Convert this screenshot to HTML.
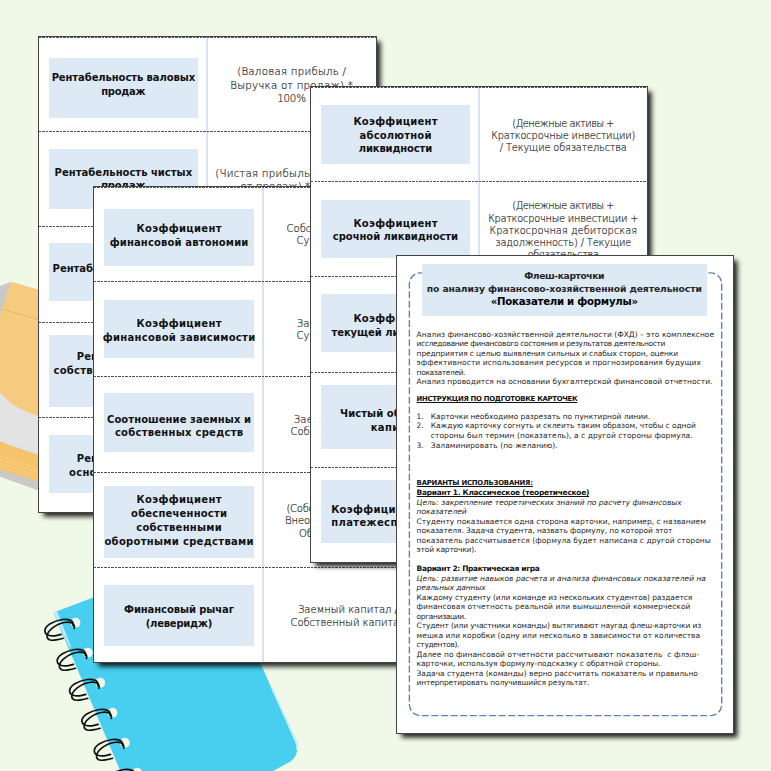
<!DOCTYPE html>
<html lang="ru"><head><meta charset="utf-8"><title>Флеш-карточки</title>
<style>
*{margin:0;padding:0;box-sizing:border-box}
html,body{width:771px;height:771px;overflow:hidden;background:#f0f8e7}
body{position:relative;font-family:"DejaVu Sans","Liberation Sans",sans-serif;color:#111}
.pg{position:absolute;background:#fff;box-shadow:0 0 0 1px #444,4px 4px 5px .5px rgba(0,0,0,.88);overflow:hidden}
.bx{position:absolute;background:#dde9f5}
.vd{position:absolute;top:0;bottom:0;width:2.2px;background:#d7e3f0}
.hd{position:absolute;left:0;right:0;height:1px;background:repeating-linear-gradient(90deg,#4a525e 0,#4a525e 2.1px,transparent 2.1px,transparent 3.5px)}
.t{position:absolute;white-space:nowrap;text-align:center;line-height:12px;height:12px}
.b{font-weight:bold;font-size:10px;color:#111}
.r{font-size:10px;color:#2a2a2a;font-weight:200;-webkit-text-stroke:.22px #3a3a3a}
.s{position:absolute;white-space:pre;font-size:7.5px;line-height:9.5px;height:9.5px;color:#262626}
.s b{color:#111}
</style></head><body>
<svg style="position:absolute;left:0;top:0" width="771" height="771" viewBox="0 0 771 771">
<polygon points="0,286 10.9,281.7 20,300 0,320" fill="#c9c9c9"/>
<polygon points="0,392 40,416 40,491 0,476.8" fill="#c9c9c9"/>
<path d="M0,392 L40,416 L40,455.2 Q18,448.5 0,441.5 Z" fill="#e3e3e3"/>
<path d="M10.9,281.7 L40,290 L40,416.6 Q14,409 0,392.5 L0,315.5 Z" fill="#f6cb7f"/>
<line x1="2.5" y1="309.6" x2="40" y2="320.3" stroke="#eeb456" stroke-width="1.1"/>
<line x1="2.2" y1="310.8" x2="40" y2="321.5" stroke="#f9d592" stroke-width=".8"/>
<path d="M0,441.5 Q18,448.5 40,455.2 L40,482 L0,469.5 Z" fill="#f5c36b"/>
<line x1="0" y1="456.5" x2="40" y2="469.7" stroke="#f9d48d" stroke-width=".8"/>
<line x1="0" y1="459.9" x2="40" y2="473.1" stroke="#f9d48d" stroke-width=".8"/>
<line x1="0" y1="463.3" x2="40" y2="476.5" stroke="#f9d48d" stroke-width=".8"/>
<line x1="0" y1="466.7" x2="40" y2="479.9" stroke="#f9d48d" stroke-width=".8"/>
<path d="M53.5,612.5 L100,595 L250,640 L261.2,664.9 L295.8,742.3 Q300.5,753 290.5,761.5 L272.9,771 L120.3,771 Z" fill="#48cff0"/>
<polygon points="53.5,612.5 57.2,611.1 71,647 69.5,647.6" fill="#bfeafb"/>
<path d="M272,686 L297.6,741.6 Q299.4,746 298,751 L296.2,749.5 Q296.8,745 295.3,742.2 L270.6,687 Z" fill="#c9eefc"/>
<circle cx="75.5" cy="622.7" r="4.9" fill="#f0f8ea"/>
<circle cx="87.8" cy="652.7" r="4.9" fill="#f0f8ea"/>
<circle cx="100.2" cy="682.7" r="4.9" fill="#f0f8ea"/>
<circle cx="112.5" cy="712.7" r="4.9" fill="#f0f8ea"/>
<circle cx="124.9" cy="742.7" r="4.9" fill="#f0f8ea"/>
<circle cx="137.2" cy="772.7" r="4.9" fill="#f0f8ea"/>
<g fill="none" stroke="#111" stroke-width="1.7" stroke-linecap="round">
<path transform="translate(75.5,622.7)" d="M -2.4,3 C -1.5,-2.2 -7,-4 -13,-3.2 C -22,-1.8 -31,3 -30.6,8.5 C -30.3,12.8 -25,13.6 -20.5,13.1 C -18,12.8 -16,12.3 -14.4,11.7"/><path transform="translate(75.5,622.7)" d="M -1.2,5.6 C -0.3,0.5 -5,-1.2 -11,-0.2 C -20,1.4 -28.8,8.5 -28.4,14 C -28.1,17.8 -23.5,17.9 -19.5,17.2 C -16.5,16.7 -14.5,16.2 -12.4,15.6"/>
<path transform="translate(87.8,652.7)" d="M -2.4,3 C -1.5,-2.2 -7,-4 -13,-3.2 C -22,-1.8 -31,3 -30.6,8.5 C -30.3,12.8 -25,13.6 -20.5,13.1 C -18,12.8 -16,12.3 -14.4,11.7"/><path transform="translate(87.8,652.7)" d="M -1.2,5.6 C -0.3,0.5 -5,-1.2 -11,-0.2 C -20,1.4 -28.8,8.5 -28.4,14 C -28.1,17.8 -23.5,17.9 -19.5,17.2 C -16.5,16.7 -14.5,16.2 -12.4,15.6"/>
<path transform="translate(100.2,682.7)" d="M -2.4,3 C -1.5,-2.2 -7,-4 -13,-3.2 C -22,-1.8 -31,3 -30.6,8.5 C -30.3,12.8 -25,13.6 -20.5,13.1 C -18,12.8 -16,12.3 -14.4,11.7"/><path transform="translate(100.2,682.7)" d="M -1.2,5.6 C -0.3,0.5 -5,-1.2 -11,-0.2 C -20,1.4 -28.8,8.5 -28.4,14 C -28.1,17.8 -23.5,17.9 -19.5,17.2 C -16.5,16.7 -14.5,16.2 -12.4,15.6"/>
<path transform="translate(112.5,712.7)" d="M -2.4,3 C -1.5,-2.2 -7,-4 -13,-3.2 C -22,-1.8 -31,3 -30.6,8.5 C -30.3,12.8 -25,13.6 -20.5,13.1 C -18,12.8 -16,12.3 -14.4,11.7"/><path transform="translate(112.5,712.7)" d="M -1.2,5.6 C -0.3,0.5 -5,-1.2 -11,-0.2 C -20,1.4 -28.8,8.5 -28.4,14 C -28.1,17.8 -23.5,17.9 -19.5,17.2 C -16.5,16.7 -14.5,16.2 -12.4,15.6"/>
<path transform="translate(124.9,742.7)" d="M -2.4,3 C -1.5,-2.2 -7,-4 -13,-3.2 C -22,-1.8 -31,3 -30.6,8.5 C -30.3,12.8 -25,13.6 -20.5,13.1 C -18,12.8 -16,12.3 -14.4,11.7"/><path transform="translate(124.9,742.7)" d="M -1.2,5.6 C -0.3,0.5 -5,-1.2 -11,-0.2 C -20,1.4 -28.8,8.5 -28.4,14 C -28.1,17.8 -23.5,17.9 -19.5,17.2 C -16.5,16.7 -14.5,16.2 -12.4,15.6"/>
<path transform="translate(137.2,772.7)" d="M -2.4,3 C -1.5,-2.2 -7,-4 -13,-3.2 C -22,-1.8 -31,3 -30.6,8.5 C -30.3,12.8 -25,13.6 -20.5,13.1 C -18,12.8 -16,12.3 -14.4,11.7"/><path transform="translate(137.2,772.7)" d="M -1.2,5.6 C -0.3,0.5 -5,-1.2 -11,-0.2 C -20,1.4 -28.8,8.5 -28.4,14 C -28.1,17.8 -23.5,17.9 -19.5,17.2 C -16.5,16.7 -14.5,16.2 -12.4,15.6"/>
</g>
</svg>
<div class="pg" style="left:38.5px;top:36.5px;width:337.5px;height:475.8px"><div class="vd" style="left:167.2px"></div><div class="hd" style="top:0"></div><div class="hd" style="top:94.7px"></div><div class="hd" style="top:189.8px"></div><div class="hd" style="top:285.2px"></div><div class="hd" style="top:380.0px"></div><div class="bx" style="left:10.2px;top:21.2px;width:149.3px;height:60.3px"></div><div class="bx" style="left:10.2px;top:112.6px;width:149.3px;height:60.2px"></div><div class="bx" style="left:10.2px;top:206.6px;width:149.3px;height:58.0px"></div><div class="bx" style="left:10.2px;top:298.0px;width:149.3px;height:72.2px"></div><div class="bx" style="left:10.2px;top:398.0px;width:149.3px;height:58.0px"></div><div class="t b" style="left:-65.15px;width:300px;top:35.6px;font-size:10px;letter-spacing:-0.091px;text-indent:-0.091px">Рентабельность валовых</div><div class="t b" style="left:-65.15px;width:300px;top:49.3px;font-size:10px;letter-spacing:-0.27px;text-indent:-0.27px">продаж</div><div class="t b" style="left:-65.15px;width:300px;top:130.2px;font-size:10px;letter-spacing:0.006px;text-indent:0.006px">Рентабельность чистых</div><div class="t b" style="left:-65.15px;width:300px;top:143.9px;font-size:10px;letter-spacing:-0.27px;text-indent:-0.27px">продаж</div><div class="t b" style="left:-65.15px;width:300px;top:226.4px;font-size:10px;letter-spacing:-0.03px;text-indent:-0.03px">Рентабельность активов</div><div class="t b" style="left:-65.15px;width:300px;top:239.9px;font-size:10px">(ROA)</div><div class="t b" style="left:-65.15px;width:300px;top:314.8px;font-size:10px;letter-spacing:0.013px;text-indent:0.013px">Рентабельность</div><div class="t b" style="left:-65.15px;width:300px;top:328.3px;font-size:10px;letter-spacing:0.241px;text-indent:0.241px">собственного капитала</div><div class="t b" style="left:-65.15px;width:300px;top:416.9px;font-size:10px;letter-spacing:0.013px;text-indent:0.013px">Рентабельность</div><div class="t b" style="left:-65.15px;width:300px;top:430.5px;font-size:10px;letter-spacing:0.245px;text-indent:0.245px">основных средств</div><div class="t r" style="left:103.1px;width:300px;top:28.9px;font-size:10.3px;letter-spacing:0.208px;text-indent:0.208px">(Валовая прибыль /</div><div class="t r" style="left:103.1px;width:300px;top:42.3px;font-size:10.3px;letter-spacing:0.186px;text-indent:0.186px">Выручка от продаж) *</div><div class="t r" style="left:103.1px;width:300px;top:55.8px;font-size:10.3px;letter-spacing:-0.23px;text-indent:-0.23px">100%</div><div class="t r" style="left:103.1px;width:300px;top:130.7px;font-size:10.3px;letter-spacing:0.222px;text-indent:0.222px">(Чистая прибыль / Выручка</div><div class="t r" style="left:103.1px;width:300px;top:143.4px;font-size:10.3px;letter-spacing:-0.032px;text-indent:-0.032px">от продаж) * 100%</div><div class="t r" style="left:103.1px;width:300px;top:219.9px;font-size:10.3px;letter-spacing:0.327px;text-indent:0.327px">(Чистая прибыль /</div><div class="t r" style="left:103.1px;width:300px;top:233.3px;font-size:10.3px;letter-spacing:0.06px;text-indent:0.06px">Сумма активов) * 100%</div><div class="t r" style="left:103.1px;width:300px;top:314.9px;font-size:10.3px;letter-spacing:0.327px;text-indent:0.327px">(Чистая прибыль /</div><div class="t r" style="left:103.1px;width:300px;top:328.3px;font-size:10.3px;letter-spacing:-0.165px;text-indent:-0.165px">Собственный капитал) * 100%</div><div class="t r" style="left:103.1px;width:300px;top:409.9px;font-size:10.3px;letter-spacing:0.327px;text-indent:0.327px">(Чистая прибыль /</div><div class="t r" style="left:103.1px;width:300px;top:423.3px;font-size:10.3px;letter-spacing:-0.052px;text-indent:-0.052px">Основные средства) * 100%</div></div>
<div class="pg" style="left:94.3px;top:187.3px;width:337.7px;height:475.2px"><div class="vd" style="left:167.6px"></div><div class="hd" style="top:0"></div><div class="hd" style="top:94.0px"></div><div class="hd" style="top:189.2px"></div><div class="hd" style="top:284.9px"></div><div class="hd" style="top:379.6px"></div><div class="bx" style="left:10.0px;top:21.3px;width:149.4px;height:57.6px"></div><div class="bx" style="left:10.0px;top:112.5px;width:149.4px;height:58.2px"></div><div class="bx" style="left:10.0px;top:206.0px;width:149.4px;height:58.4px"></div><div class="bx" style="left:10.0px;top:298.3px;width:149.4px;height:72.4px"></div><div class="bx" style="left:10.0px;top:397.9px;width:149.4px;height:61.1px"></div><div class="t b" style="left:-65.3px;width:300px;top:36.0px;font-size:10px;letter-spacing:0.327px;text-indent:0.327px">Коэффициент</div><div class="t b" style="left:-65.3px;width:300px;top:49.4px;font-size:10px;letter-spacing:0.156px;text-indent:0.156px">финансовой автономии</div><div class="t b" style="left:-65.3px;width:300px;top:130.9px;font-size:10px;letter-spacing:0.327px;text-indent:0.327px">Коэффициент</div><div class="t b" style="left:-65.3px;width:300px;top:144.3px;font-size:10px;letter-spacing:0.271px;text-indent:0.271px">финансовой зависимости</div><div class="t b" style="left:-65.3px;width:300px;top:226.5px;font-size:10px;letter-spacing:0.064px;text-indent:0.064px">Соотношение заемных и</div><div class="t b" style="left:-65.3px;width:300px;top:239.9px;font-size:10px;letter-spacing:0.264px;text-indent:0.264px">собственных средств</div><div class="t b" style="left:-65.3px;width:300px;top:306.7px;font-size:10px;letter-spacing:0.327px;text-indent:0.327px">Коэффициент</div><div class="t b" style="left:-65.3px;width:300px;top:320.7px;font-size:10px;letter-spacing:0.193px;text-indent:0.193px">обеспеченности</div><div class="t b" style="left:-65.3px;width:300px;top:334.5px;font-size:10px;letter-spacing:0.247px;text-indent:0.247px">собственными</div><div class="t b" style="left:-65.3px;width:300px;top:348.3px;font-size:10px;letter-spacing:0.301px;text-indent:0.301px">оборотными средствами</div><div class="t b" style="left:-65.3px;width:300px;top:416.4px;font-size:10px;letter-spacing:-0.086px;text-indent:-0.086px">Финансовый рычаг</div><div class="t b" style="left:-65.3px;width:300px;top:430.3px;font-size:10px;letter-spacing:-0.236px;text-indent:-0.236px">(леверидж)</div><div class="t r" style="left:103.7px;width:300px;top:35.8px;font-size:10px;letter-spacing:0.026px;text-indent:0.026px">Собственный капитал /</div><div class="t r" style="left:103.7px;width:300px;top:48.0px;font-size:10px;letter-spacing:0.085px;text-indent:0.085px">Суммарные активы</div><div class="t r" style="left:103.7px;width:300px;top:130.5px;font-size:10px;letter-spacing:0.149px;text-indent:0.149px">Заемный капитал /</div><div class="t r" style="left:103.7px;width:300px;top:143.1px;font-size:10px;letter-spacing:0.085px;text-indent:0.085px">Суммарные активы</div><div class="t r" style="left:103.7px;width:300px;top:226.4px;font-size:10px;letter-spacing:0.268px;text-indent:0.268px">Заемные средства /</div><div class="t r" style="left:103.7px;width:300px;top:238.9px;font-size:10px;letter-spacing:-0.048px;text-indent:-0.048px">Собственный капитал</div><div class="t r" style="left:103.7px;width:300px;top:316.1px;font-size:10px;letter-spacing:-0.227px;text-indent:-0.227px">(Собственный капитал –</div><div class="t r" style="left:103.7px;width:300px;top:328.0px;font-size:10px;letter-spacing:-0.054px;text-indent:-0.054px">Внеоборотные активы) /</div><div class="t r" style="left:103.7px;width:300px;top:340.3px;font-size:10px;letter-spacing:-0.078px;text-indent:-0.078px">Оборотные активы</div><div class="t r" style="left:103.7px;width:300px;top:417.2px;font-size:10px;letter-spacing:0.007px;text-indent:0.007px">Заемный капитал /</div><div class="t r" style="left:103.7px;width:300px;top:429.7px;font-size:10px;letter-spacing:-0.048px;text-indent:-0.048px">Собственный капитал</div></div>
<div class="pg" style="left:310.8px;top:87.3px;width:336.7px;height:475.1px"><div class="vd" style="left:166.9px"></div><div class="hd" style="top:0"></div><div class="hd" style="top:94.1px"></div><div class="hd" style="top:189.2px"></div><div class="hd" style="top:284.6px"></div><div class="hd" style="top:379.7px"></div><div class="bx" style="left:10.1px;top:18.2px;width:149.1px;height:58.3px"></div><div class="bx" style="left:10.1px;top:112.9px;width:149.1px;height:57.8px"></div><div class="bx" style="left:10.1px;top:206.7px;width:149.1px;height:57.7px"></div><div class="bx" style="left:10.1px;top:298.1px;width:149.1px;height:63.6px"></div><div class="bx" style="left:10.1px;top:393.0px;width:149.1px;height:63.2px"></div><div class="t b" style="left:-65.3px;width:300px;top:29.0px;font-size:10px;letter-spacing:0.236px;text-indent:0.236px">Коэффициент</div><div class="t b" style="left:-65.3px;width:300px;top:42.5px;font-size:10px;letter-spacing:0.184px;text-indent:0.184px">абсолютной</div><div class="t b" style="left:-65.3px;width:300px;top:56.1px;font-size:10px;letter-spacing:-0.147px;text-indent:-0.147px">ликвидности</div><div class="t b" style="left:-65.3px;width:300px;top:130.5px;font-size:10px;letter-spacing:0.236px;text-indent:0.236px">Коэффициент</div><div class="t b" style="left:-65.3px;width:300px;top:144.1px;font-size:10px;letter-spacing:-0.047px;text-indent:-0.047px">срочной ликвидности</div><div class="t b" style="left:-65.3px;width:300px;top:226.2px;font-size:10px;letter-spacing:0.236px;text-indent:0.236px">Коэффициент</div><div class="t b" style="left:-65.3px;width:300px;top:240.1px;font-size:10px;letter-spacing:-0.064px;text-indent:-0.064px">текущей ликвидности</div><div class="t b" style="left:-65.3px;width:300px;top:321.1px;font-size:10px;letter-spacing:0.072px;text-indent:0.072px">Чистый оборотный</div><div class="t b" style="left:-65.3px;width:300px;top:335.1px;font-size:10px;letter-spacing:0.384px;text-indent:0.384px">капитал</div><div class="t b" style="left:-65.3px;width:300px;top:416.7px;font-size:10px;letter-spacing:0.301px;text-indent:0.301px">Коэффициент общей</div><div class="t b" style="left:-65.3px;width:300px;top:430.1px;font-size:10px;letter-spacing:0.373px;text-indent:0.373px">платежеспособности</div><div class="t r" style="left:102.5px;width:300px;top:31.0px;font-size:9.8px;letter-spacing:-0.474px;text-indent:-0.474px">(Денежные активы +</div><div class="t r" style="left:102.5px;width:300px;top:42.7px;font-size:9.8px;letter-spacing:-0.147px;text-indent:-0.147px">Краткосрочные инвестиции)</div><div class="t r" style="left:102.5px;width:300px;top:54.3px;font-size:9.8px;letter-spacing:-0.133px;text-indent:-0.133px">/ Текущие обязательства</div><div class="t r" style="left:102.5px;width:300px;top:113.1px;font-size:9.8px;letter-spacing:-0.474px;text-indent:-0.474px">(Денежные активы +</div><div class="t r" style="left:102.5px;width:300px;top:125.4px;font-size:9.8px;letter-spacing:-0.199px;text-indent:-0.199px">Краткосрочные инвестиции +</div><div class="t r" style="left:102.5px;width:300px;top:137.7px;font-size:9.8px;letter-spacing:0.043px;text-indent:0.043px">Краткосрочная дебиторская</div><div class="t r" style="left:102.5px;width:300px;top:150.0px;font-size:9.8px;letter-spacing:-0.13px;text-indent:-0.13px">задолженность) / Текущие</div><div class="t r" style="left:102.5px;width:300px;top:161.9px;font-size:9.8px;letter-spacing:-0.311px;text-indent:-0.311px">обязательства</div><div class="t r" style="left:102.5px;width:300px;top:226.1px;font-size:9.8px;letter-spacing:0.076px;text-indent:0.076px">Оборотные активы /</div><div class="t r" style="left:102.5px;width:300px;top:238.4px;font-size:9.8px;letter-spacing:-0.069px;text-indent:-0.069px">Текущие обязательства</div><div class="t r" style="left:102.5px;width:300px;top:321.1px;font-size:9.8px;letter-spacing:-0.014px;text-indent:-0.014px">Оборотные активы –</div><div class="t r" style="left:102.5px;width:300px;top:333.4px;font-size:9.8px;letter-spacing:-0.069px;text-indent:-0.069px">Текущие обязательства</div><div class="t r" style="left:102.5px;width:300px;top:416.1px;font-size:9.8px;letter-spacing:0.144px;text-indent:0.144px">Собственный капитал /</div><div class="t r" style="left:102.5px;width:300px;top:428.4px;font-size:9.8px;letter-spacing:-0.081px;text-indent:-0.081px">Общие обязательства</div></div>
<div class="pg" style="left:396.8px;top:256.4px;width:336.6px;height:476.2px"><svg style="position:absolute;left:0;top:0" width="336.6" height="476.2" viewBox="0 0 336.6 476.2"><rect x="12.4" y="16.9" width="312.30" height="442.70" rx="11" ry="11" fill="none" stroke="#5b86b4" stroke-width="1.4" stroke-dasharray="7 2.6"/></svg><div class="bx" style="left:24.9px;top:7.6px;width:285.3px;height:51.8px"></div><div class="t" style="left:7.55px;width:320px;top:14.0px;font-weight:bold;font-size:9.2px;color:#262626;letter-spacing:-0.406px;text-indent:-0.406px">Флеш-карточки</div><div class="t" style="left:7.55px;width:320px;top:26.5px;font-weight:bold;font-size:9.2px;color:#262626;letter-spacing:-0.093px;text-indent:-0.093px">по анализу финансово-хозяйственной деятельности</div><div class="t" style="left:7.55px;width:320px;top:39.7px;font-weight:bold;font-size:10.2px;color:#000;letter-spacing:-0.273px;text-indent:-0.273px">«Показатели и формулы»</div><div class="s" style="left:19.8px;top:73.35px;letter-spacing:0.034px">Анализ финансово-хозяйственной деятельности (ФХД) – это комплексное</div><div class="s" style="left:19.8px;top:82.85px;letter-spacing:-0.35px">исследование финансового состояния и результатов деятельности</div><div class="s" style="left:19.8px;top:92.35px;letter-spacing:-0.122px">предприятия с целью выявления сильных и слабых сторон, оценки</div><div class="s" style="left:19.8px;top:101.85px;letter-spacing:0.087px">эффективности использования ресурсов и прогнозирования будущих</div><div class="s" style="left:19.8px;top:111.35px;letter-spacing:-0.35px">показателей.</div><div class="s" style="left:19.8px;top:120.85px;letter-spacing:0.014px">Анализ проводится на основании бухгалтерской финансовой отчетности.</div><div class="s" style="left:19.8px;top:139.05px;font-size:6.9px;letter-spacing:-0.288px"><b><u>ИНСТРУКЦИЯ ПО ПОДГОТОВКЕ КАРТОЧЕК</u></b></div><div class="s" style="left:19.8px;top:155.15px">1.</div><div class="s" style="left:34.0px;top:155.15px;letter-spacing:-0.028px">Карточки необходимо разрезать по пунктирной линии.</div><div class="s" style="left:19.8px;top:164.75px">2.</div><div class="s" style="left:34.0px;top:164.75px;letter-spacing:-0.067px">Каждую карточку согнуть и склеить таким образом, чтобы с одной</div><div class="s" style="left:34.0px;top:174.45px;letter-spacing:0.066px">стороны был термин (показатель), а с другой стороны формула.</div><div class="s" style="left:19.8px;top:184.25px">3.</div><div class="s" style="left:34.0px;top:184.25px;letter-spacing:0.049px">Заламинировать (по желанию).</div><div class="s" style="left:19.8px;top:222.35px;font-size:6.9px;letter-spacing:-0.216px"><b><u>ВАРИАНТЫ ИСПОЛЬЗОВАНИЯ:</u></b></div><div class="s" style="left:19.8px;top:231.95px;letter-spacing:-0.301px"><b><u>Вариант 1. Классическое (теоретическое)</u></b></div><div class="s" style="left:19.8px;top:241.45px;letter-spacing:0.002px"><i>Цель: закрепление теоретических знаний по расчету финансовых</i></div><div class="s" style="left:19.8px;top:250.95px;letter-spacing:-0.043px"><i>показателей</i></div><div class="s" style="left:19.8px;top:260.45px;letter-spacing:0.022px">Студенту показывается одна сторона карточки, например, с названием</div><div class="s" style="left:19.8px;top:269.95px;letter-spacing:-0.066px">показателя. Задача студента, назвать формулу, по которой этот</div><div class="s" style="left:19.8px;top:279.45px;letter-spacing:0.063px">показатель рассчитывается (формула будет написана с другой стороны</div><div class="s" style="left:19.8px;top:288.95px;letter-spacing:-0.177px">этой карточки).</div><div class="s" style="left:19.8px;top:307.65px;letter-spacing:-0.35px"><b>Вариант 2: Практическая игра</b></div><div class="s" style="left:19.8px;top:317.25px;letter-spacing:0.005px"><i>Цель: развитие навыков расчета и анализа финансовых показателей на</i></div><div class="s" style="left:19.8px;top:326.65px;letter-spacing:-0.126px"><i>реальных данных</i></div><div class="s" style="left:19.8px;top:336.15px;letter-spacing:-0.078px">Каждому студенту (или команде из нескольких студентов) раздается</div><div class="s" style="left:19.8px;top:345.65px;letter-spacing:0.046px">финансовая отчетность реальной или вымышленной коммерческой</div><div class="s" style="left:19.8px;top:355.15px;letter-spacing:-0.35px">организации.</div><div class="s" style="left:19.8px;top:364.65px;letter-spacing:-0.129px">Студент (или участники команды) вытягивают наугад флеш-карточки из</div><div class="s" style="left:19.8px;top:374.15px;letter-spacing:0.03px">мешка или коробки (одну или несколько в зависимости от количества</div><div class="s" style="left:19.8px;top:383.65px;letter-spacing:-0.35px">студентов).</div><div class="s" style="left:19.8px;top:393.15px;letter-spacing:0.076px">Далее по финансовой отчетности рассчитывают показатель  с флэш-</div><div class="s" style="left:19.8px;top:402.75px;letter-spacing:-0.062px">карточки, используя формулу-подсказку с обратной стороны.</div><div class="s" style="left:19.8px;top:412.35px;letter-spacing:-0.03px">Задача студента (команды) верно рассчитать показатель и правильно</div><div class="s" style="left:19.8px;top:421.95px;letter-spacing:-0.172px">интерпретировать получившийся результат.</div></div>

</body></html>
